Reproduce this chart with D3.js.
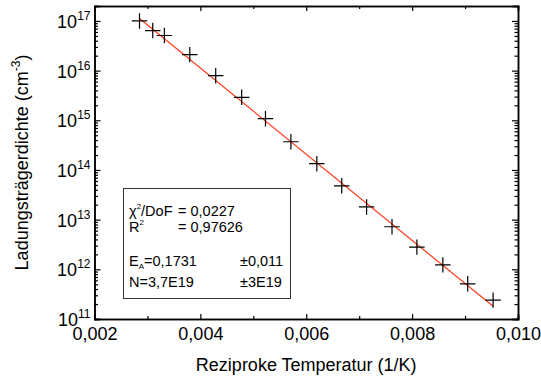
<!DOCTYPE html>
<html>
<head>
<meta charset="utf-8">
<script src="https://cdn.jsdelivr.net/npm/d3@7"></script>
<style>
  body { margin: 0; background: #fff; }
  text { font-family: "Liberation Sans", Arial, sans-serif; fill: #000; }
</style>
</head>
<body>
<div id="chart"></div>
<script>
// messwerte
const xVals = [0.00285, 0.00310, 0.00332, 0.00380, 0.00429, 0.00478, 0.00523, 0.00571,
               0.00620, 0.00667, 0.00714, 0.00762, 0.00809, 0.00858, 0.00905, 0.00953];
const yVals = [1.0e17, 6.4e16, 5.1e16, 2.1e16, 7.9e15, 2.9e15, 1.08e15, 3.7e14,
               1.34e14, 4.8e13, 1.8e13, 7.2e12, 2.8e12, 1.23e12, 5.1e11, 2.4e11];
// fit-gerade (endpunkte)
const fitX = [0.00285, 0.00953];
const fitY = [1.12e17, 1.8e11];
const xTicks = [0.002, 0.004, 0.006, 0.008, 0.010];
const xMinor = [0.003, 0.005, 0.007, 0.009];
const yTicks = [1e11, 1e12, 1e13, 1e14, 1e15, 1e16, 1e17];
const fitLines = [
    ['χ', '2', '/DoF', '= 0,0227'],
    ['R', '2', '', '= 0,97626']
];
const paramLines = [
    ['E', 'A', '=0,1731', '±0,011'],
    ['N=3,7E19', '', '', '±3E19']
];

const W = 541, H = 378;
const margin = { top: 6, right: 23, bottom: 59, left: 94.5 };
const w = W - margin.left - margin.right;
const h = H - margin.top - margin.bottom;

const svg = d3.select('#chart')
    .append('svg')
    .attr('width', W)
    .attr('height', H);

const g = svg.append('g')
    .attr('transform', `translate(${margin.left}, ${margin.top})`);

const x = d3.scaleLinear().domain([0.002, 0.010]).range([0, w]);
const y = d3.scaleLog().domain([1e11, 2e17]).range([h, 0]);

const yMinor = [];
for (let e = 11; e <= 16; e++) {
    for (let k = 2; k <= 9; k++) yMinor.push(k * Math.pow(10, e));
}

const fmt = (d) => d3.format('.3f')(d).replace('.', ',');

// achsen: ticks nach innen
g.append('g').attr('transform', `translate(0, ${h})`)
    .call(d3.axisBottom(x).tickValues(xMinor).tickSize(-3).tickFormat(''));
const xAx = g.append('g').attr('transform', `translate(0, ${h})`)
    .call(d3.axisBottom(x).tickValues(xTicks).tickSize(-5).tickFormat(fmt));
xAx.selectAll('text').attr('font-size', 18).attr('y', 21).attr('dy', 0);

g.append('g')
    .call(d3.axisTop(x).tickValues(xMinor).tickSize(-3).tickFormat(''));
g.append('g')
    .call(d3.axisTop(x).tickValues(xTicks).tickSize(-5).tickFormat(''));

g.append('g')
    .call(d3.axisLeft(y).tickValues(yMinor).tickSize(-3.5).tickFormat(''));
const yAx = g.append('g')
    .call(d3.axisLeft(y).tickValues(yTicks).tickSize(-6).tickPadding(4).tickFormat(() => '10'));
yAx.selectAll('.tick text')
    .attr('font-size', 18)
    .attr('y', 6.5)
    .attr('dy', 0)
    .append('tspan')
    .attr('dy', -8)
    .attr('font-size', 12)
    .text((d) => Math.round(Math.log10(d)));

g.append('g').attr('transform', `translate(${w}, 0)`)
    .call(d3.axisRight(y).tickValues(yMinor).tickSize(-3.5).tickFormat(''));
g.append('g').attr('transform', `translate(${w}, 0)`)
    .call(d3.axisRight(y).tickValues(yTicks).tickSize(-6).tickFormat(''));

g.selectAll('.domain').attr('stroke', '#000').attr('stroke-width', 1.5);
g.selectAll('.tick line').attr('stroke', '#000').attr('stroke-width', 1.2);

// fit
const fitData = fitX.map((d, i) => [d, fitY[i]]);
g.append('path')
    .datum(fitData)
    .attr('fill', 'none')
    .attr('stroke', '#ff3a1a')
    .attr('stroke-width', 1.2)
    .attr('d', d3.line().x((d) => x(d[0])).y((d) => y(d[1])));

// messpunkte als kreuze
const pts = xVals.map((d, i) => [d, yVals[i]]);
g.selectAll('.pt')
    .data(pts)
    .enter()
    .append('path')
    .classed('pt', true)
    .attr('transform', (d) => `translate(${x(d[0])}, ${y(d[1])})`)
    .attr('d', d3.symbol(d3.symbolPlus).size(80)())
    .attr('fill', 'none')
    .attr('stroke', '#000')
    .attr('stroke-width', 1.2);

// textbox
svg.append('rect')
    .attr('x', 123.5).attr('y', 188.5)
    .attr('width', 167).attr('height', 110)
    .attr('fill', '#fff')
    .attr('stroke', '#333')
    .attr('stroke-width', 1);

const box = svg.append('g').attr('font-size', 14.5);
fitLines.forEach((l, i) => {
    const t = box.append('text').attr('x', 129).attr('y', 215.5 + i * 16.5);
    t.append('tspan').text(l[0]);
    t.append('tspan').attr('dy', -7).attr('font-size', 8).text(l[1]);
    t.append('tspan').attr('dy', 7).text(l[2]);
    box.append('text').attr('x', 178).attr('y', 215.5 + i * 16.5).text(l[3]);
});
paramLines.forEach((l, i) => {
    const t = box.append('text').attr('x', 129).attr('y', 266 + i * 21);
    t.append('tspan').text(l[0]);
    if (l[1]) {
        t.append('tspan').attr('dy', 3).attr('font-size', 8).text(l[1]);
        t.append('tspan').attr('dy', -3).text(l[2]);
    }
    box.append('text').attr('x', 240).attr('y', 266 + i * 21).text(l[3]);
});

// achsentitel
svg.append('text')
    .attr('x', margin.left + w / 2).attr('y', 371)
    .attr('text-anchor', 'middle')
    .attr('font-size', 18)
    .text('Reziproke Temperatur (1/K)');

const yl = svg.append('text')
    .attr('transform', `translate(28, ${margin.top + h / 2}) rotate(-90)`)
    .attr('text-anchor', 'middle')
    .attr('font-size', 18);
yl.append('tspan').text('Ladungsträgerdichte (cm');
yl.append('tspan').attr('dy', -8).attr('font-size', 12).text('-3');
yl.append('tspan').attr('dy', 8).text(')');
</script>
</body>
</html>
